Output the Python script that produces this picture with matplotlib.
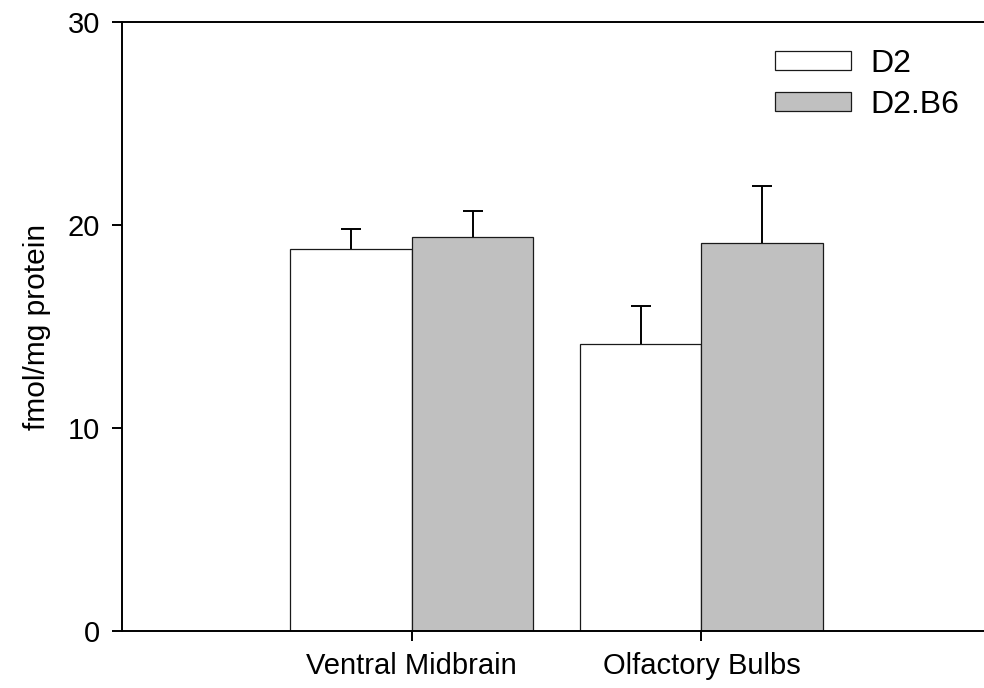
import numpy as np
import matplotlib
matplotlib.use("Agg")
import matplotlib.pyplot as plt

# Binding data (mean + SEM), fmol/mg protein
regions = ["Ventral Midbrain", "Olfactory Bulbs"]
strains = ["D2", "D2.B6"]
means_d2 = [18.8, 14.15]
means_d2b6 = [19.4, 19.1]
sem_d2 = [1.0, 1.85]
sem_d2b6 = [1.3, 2.8]

colors = ["white", "#c0c0c0"]

plt.rcParams["font.family"] = ["Liberation Sans", "DejaVu Sans"]

fig = plt.figure(figsize=(9.84, 6.88), dpi=100)
ax = fig.add_axes([122 / 984, 57 / 688, 862 / 984, 609 / 688])

x = np.arange(1, len(regions) + 1)
width = 0.42
series = [(means_d2, sem_d2), (means_d2b6, sem_d2b6)]
for i, (means, sems) in enumerate(series):
    pos = x - width / 2 if i == 0 else x + width / 2
    ax.bar(pos, means, width, color=colors[i], edgecolor="#1a1a1a",
           linewidth=0.9, label=strains[i], zorder=2)
    eb = ax.errorbar(pos, means, yerr=[np.zeros(len(means)), sems], fmt="none",
                     ecolor="black", elinewidth=1.4, capsize=7, capthick=1.4,
                     zorder=3)
    # upper caps only
    eb[1][0].set_visible(False)

ax.set_xlim(0, 2.975)
ax.set_ylim(0, 30)
ax.set_yticks([0, 10, 20, 30])
ax.set_xticks(x)
ax.set_xticklabels(regions)
ax.set_ylabel("fmol/mg protein", fontsize=21.5, labelpad=12)

ax.spines["right"].set_visible(False)
for side in ("left", "bottom", "top"):
    ax.spines[side].set_linewidth(1.4)
ax.tick_params(axis="y", direction="out", length=7, width=1.4, pad=9,
               labelsize=21)
ax.tick_params(axis="x", direction="out", length=7, width=1.4, pad=8,
               labelsize=21)

ax.legend(frameon=False, fontsize=23, loc="upper left",
          bbox_to_anchor=(775 / 984, 1 - 49 / 688),
          bbox_transform=fig.transFigure, borderpad=0, borderaxespad=0,
          handlelength=2.375, handleheight=0.53, handletextpad=0.6,
          labelspacing=0.33)

fig.savefig("out.png", dpi=100)
